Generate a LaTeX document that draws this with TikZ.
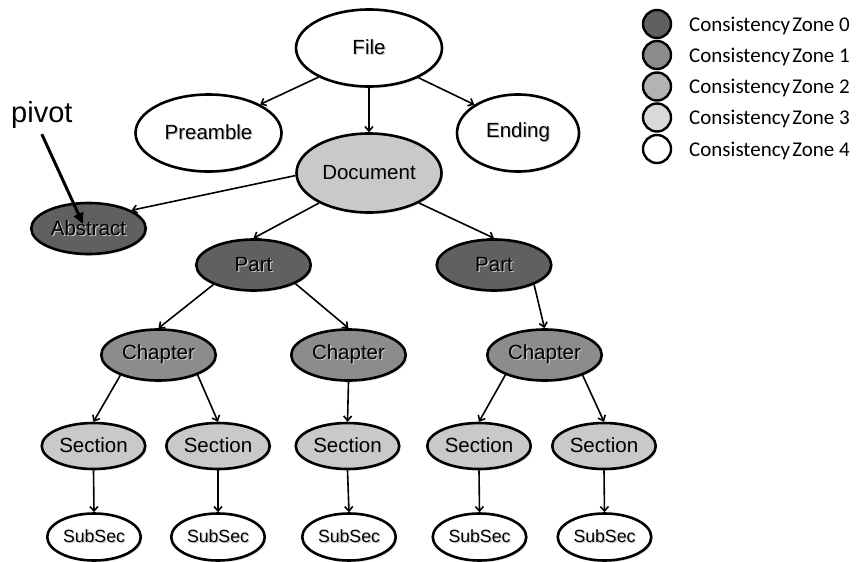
\documentclass[tikz,border=0pt]{standalone}
\usepackage{fontspec}
\setmainfont{Liberation Sans}
\newfontfamily\legendfont{Carlito}
\usetikzlibrary{arrows.meta,shapes.geometric,shadows}

% grey levels of the consistency zones
\definecolor{zoneA}{HTML}{606060}
\definecolor{zoneB}{HTML}{8C8C8C}
\definecolor{zoneC}{HTML}{B3B3B3}
\definecolor{zoneD}{HTML}{D9D9D9}
\definecolor{zoneE}{HTML}{FFFFFF}
\definecolor{docgrey}{HTML}{C9C9C9}

% label text with a soft grey shadow
\newcommand\shadowtext[1]{\makebox[0pt][l]{\hspace{1.2pt}\raisebox{-1.2pt}{\textcolor{black!22}{#1}}}#1}

\begin{document}
\begin{tikzpicture}[x=1pt,y=-1pt,
  unit/.style={ellipse, draw=black, line width=2.6pt, inner sep=0pt,
    text=black, font=\fontsize{20.5}{24}\selectfont,
    drop shadow={shadow xshift=1.5pt,shadow yshift=-1.8pt,opacity=0.22}},
  bigbox/.style={unit, minimum width=146pt, minimum height=77pt},
  endbox/.style={unit, minimum width=122pt, minimum height=77pt},
  docbox/.style={unit, fill=docgrey, minimum width=145pt, minimum height=79pt},
  midbox/.style={unit, minimum width=114.5pt, minimum height=51pt},
  secbox/.style={unit, fill=docgrey, minimum width=103.5pt, minimum height=46pt},
  subbox/.style={unit, fill=white, minimum width=93.5pt, minimum height=47pt,
    font=\fontsize{17.7}{21}\selectfont},
  link/.style={line width=1.6pt, -{Straight Barb[length=4.5pt,width=8pt]}},
  pointer/.style={line width=3pt, -{Triangle[length=11pt,width=10pt]}},
  legdot/.style={circle, draw=black, line width=2.4pt, minimum size=28pt, inner sep=0pt},
  legtext/.style={anchor=base west, inner sep=0pt, font=\legendfont\fontsize{21}{25}\selectfont}]

\useasboundingbox (0,0) rectangle (857,562);

% tree nodes
\node[bigbox, fill=white] (file) at (369,48) {\shadowtext{File}};
\node[bigbox, fill=white] (preamble) at (208.5,133) {\shadowtext{Preamble}};
\node[endbox, fill=white] (ending) at (518,133) {\shadowtext{Ending}};
\node[docbox] (doc) at (369,173) {\shadowtext{Document}};
\node[midbox, fill=zoneA] (abstract) at (88.5,228.5) {\shadowtext{Abstract}};
\node[midbox, fill=zoneA] (partL) at (253.5,265) {\shadowtext{Part}};
\node[midbox, fill=zoneA] (partR) at (494,265) {\shadowtext{Part}};
\node[midbox, fill=zoneB] (chapL) at (158.5,355) {\shadowtext{Chapter}};
\node[midbox, fill=zoneB] (chapM) at (348.5,355) {\shadowtext{Chapter}};
\node[midbox, fill=zoneB] (chapR) at (544.5,355) {\shadowtext{Chapter}};

\node[secbox] (secA) at (93.5,446) {\shadowtext{Section}};
\node[secbox] (secB) at (218,446) {\shadowtext{Section}};
\node[secbox] (secC) at (347.5,446) {\shadowtext{Section}};
\node[secbox] (secD) at (479,446) {\shadowtext{Section}};
\node[secbox] (secE) at (604,446) {\shadowtext{Section}};

\node[subbox] (subA) at (94,537) {\shadowtext{SubSec}};
\node[subbox] (subB) at (218,537) {\shadowtext{SubSec}};
\node[subbox] (subC) at (349,537) {\shadowtext{SubSec}};
\node[subbox] (subD) at (479.5,537) {\shadowtext{SubSec}};
\node[subbox] (subE) at (604.5,537) {\shadowtext{SubSec}};

% tree edges
\draw[link] (file.-150) -- (preamble.29);
\draw[link] (file.south) -- (doc.north);
\draw[link] (file.-31) -- (ending.147);
\draw[link] (doc.-178) -- (abstract.23);
\draw[link] (doc.-149) -- (partL.north);
\draw[link] (doc.-31) -- (partR.north);
\draw[link] (partL.-154) -- (chapL.north);
\draw[link] (partL.-24) -- (chapM.north);
\draw[link] (partR.-26) -- (chapR.north);
\draw[link] (chapL.-152) -- (secA.north);
\draw[link] (chapL.-27) -- (secB.north);
\draw[link] (chapM.south) -- (secC.north);
\draw[link] (chapR.-153) -- (secD.north);
\draw[link] (chapR.-28) -- (secE.north);
\draw[link] (secA.south) -- (subA.north);
\draw[link] (secB.south) -- (subB.north);
\draw[link] (secC.south) -- (subC.north);
\draw[link] (secD.south) -- (subD.north);
\draw[link] (secE.south) -- (subE.north);

% pivot marker
\node[anchor=base west, inner sep=0pt, font=\fontsize{29}{34}\selectfont] (pivot) at (11,122) {pivot};
\coordinate (pivottip) at (83,224);
\draw[pointer] ([yshift=-6pt]pivot.south) -- (pivottip);

% legend
\foreach \c/\y/\k in {zoneA/24/0, zoneB/55/1, zoneC/86.5/2, zoneD/117.5/3, zoneE/149/4} {
  \node[legdot, fill=\c] (dot\k) at (657,\y) {};
  \node[legtext] (lab\k) at (689,\y+7) {Consistency\hspace{0.1em}Zone \k};
}
\end{tikzpicture}
\end{document}
